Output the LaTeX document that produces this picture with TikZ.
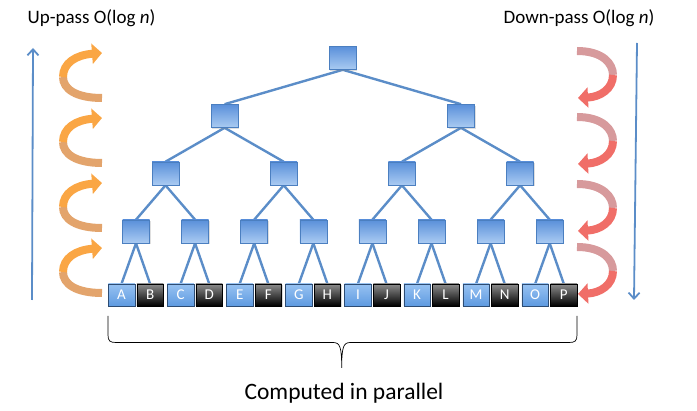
\documentclass[tikz,border=0pt]{standalone}
\usepackage{fontspec}
\setmainfont{Carlito}
\usetikzlibrary{arrows.meta,shadows,backgrounds}
\definecolor{edgeblue}{HTML}{5B8DC8}
\definecolor{boxtop}{HTML}{5A90DA}
\definecolor{boxbot}{HTML}{AACBF2}
\definecolor{boxline}{HTML}{4B7FC0}
\definecolor{leaftop}{HTML}{97C2F2}
\definecolor{leafbot}{HTML}{5E9AE0}
\definecolor{upor}{HTML}{FAA644}
\definecolor{upordark}{HTML}{E3A46C}
\definecolor{downred}{HTML}{F06E68}
\definecolor{downpink}{HTML}{D79A9C}
\tikzset{
  treebox/.style={draw=boxline, line width=0.6pt, top color=boxtop, bottom color=boxbot,
    minimum width=27pt, minimum height=23pt, inner sep=0pt,
    drop shadow={opacity=0.25, shadow xshift=1pt, shadow yshift=-1.2pt}},
  leaf/.style={draw=boxline!60!black, line width=0.4pt, minimum width=26.5pt, minimum height=22pt,
    inner sep=0pt, text=white, font=\fontsize{15}{15}\selectfont,
    drop shadow={opacity=0.3, shadow xshift=1pt, shadow yshift=-1.2pt}},
  leafblue/.style={leaf, top color=leaftop, bottom color=leafbot},
  leafblack/.style={leaf, draw=black, top color=black!45, bottom color=black},
  edge/.style={draw=edgeblue, line width=2.4pt},
  passline/.style={draw=edgeblue, line width=1.8pt, -{Straight Barb[length=6pt,width=11pt]}},
  curl/.style={line width=8pt},
  curltip/.style={line width=8pt, -{Triangle[length=10pt,width=20pt]}},
  label/.style={font=\fontsize{19}{21}\selectfont},
  biglabel/.style={font=\fontsize{23.5}{26}\selectfont}
}
\begin{document}
\begin{tikzpicture}[x=1pt, y=-1pt]
\useasboundingbox (0,0) rectangle (697,411);
% leaves
\foreach \l [count=\i from 0] in {A,B,...,P}
{
    \pgfmathsetmacro\px{121.5+59.1*int(\i/2)+28.6*mod(\i,2)}
    \ifodd\i
        \node[leafblack] (l\i) at (\px,295) {\l};
    \else
        \node[leafblue] (l\i) at (\px,295) {\l};
    \fi
}
% tree
\foreach \k in {0,...,7}
    \node[treebox] (t1-\k) at ({136+59.1*\k},231.5) {};
\foreach \k in {0,...,3}
    \node[treebox] (t2-\k) at ({165.5+118.2*\k},173.5) {};
\foreach \k in {0,1}
    \node[treebox] (t3-\k) at ({224.6+236.4*\k},116) {};
\node[treebox] (root) at (342.8,58) {};
\begin{scope}[on background layer]
\draw[edge] (root.south)--(t3-0.north);
\draw[edge] (root.south)--(t3-1.north);
\foreach \k [evaluate=\k as \a using int(2*\k), evaluate=\k as \b using int(2*\k+1)] in {0,1}
{
    \draw[edge] (t3-\k.south)--(t2-\a.north);
    \draw[edge] (t3-\k.south)--(t2-\b.north);
}
\foreach \k [evaluate=\k as \a using int(2*\k), evaluate=\k as \b using int(2*\k+1)] in {0,...,3}
{
    \draw[edge] (t2-\k.south)--(t1-\a.north);
    \draw[edge] (t2-\k.south)--(t1-\b.north);
}
\foreach \k [evaluate=\k as \a using int(2*\k), evaluate=\k as \b using int(2*\k+1)] in {0,...,7}
{
    \draw[edge] (t1-\k.south)--(l\a.north);
    \draw[edge] (t1-\k.south)--(l\b.north);
}
\end{scope}
% passes
\draw[passline] (32,300)--(33,48);
\draw[passline] (637,43)--(634,300);
\foreach \t in {53,118,183,248}
{
    \draw[curl, upordark] (102,\t+45) .. controls (76,\t+45) and (63,\t+36) .. (63,\t+24);
    \draw[curltip, upor] (63,\t+24) .. controls (63,\t+10) and (76,\t+2) .. (102,\t);
}
\foreach \s in {51,117,184,247}
{
    \draw[curl, downpink] (577,\s) .. controls (602,\s) and (613,\s+12) .. (613,\s+24);
    \draw[curltip, downred] (613,\s+24) .. controls (613,\s+38) and (600,\s+46) .. (578,\s+47);
}
% brace
\draw[line width=0.7pt] (108,316)--(108,335) .. controls (108,341) and (110,342.5) .. (116,342.5)
    --(333,342.5) .. controls (340,342.5) and (341.7,347) .. (341.7,368)
    .. controls (341.7,347) and (343.4,342.5) .. (350.4,342.5)
    --(569,342.5) .. controls (575,342.5) and (577,341) .. (577,335)--(577,316);
\node[label] (up) at (91.5,18) {Up-pass O(log \textit{n})};
\node[label] (down) at (579,18) {Down-pass O(log \textit{n})};
\node[biglabel] (par) at (344,393) {Computed in parallel};
\end{tikzpicture}
\end{document}
